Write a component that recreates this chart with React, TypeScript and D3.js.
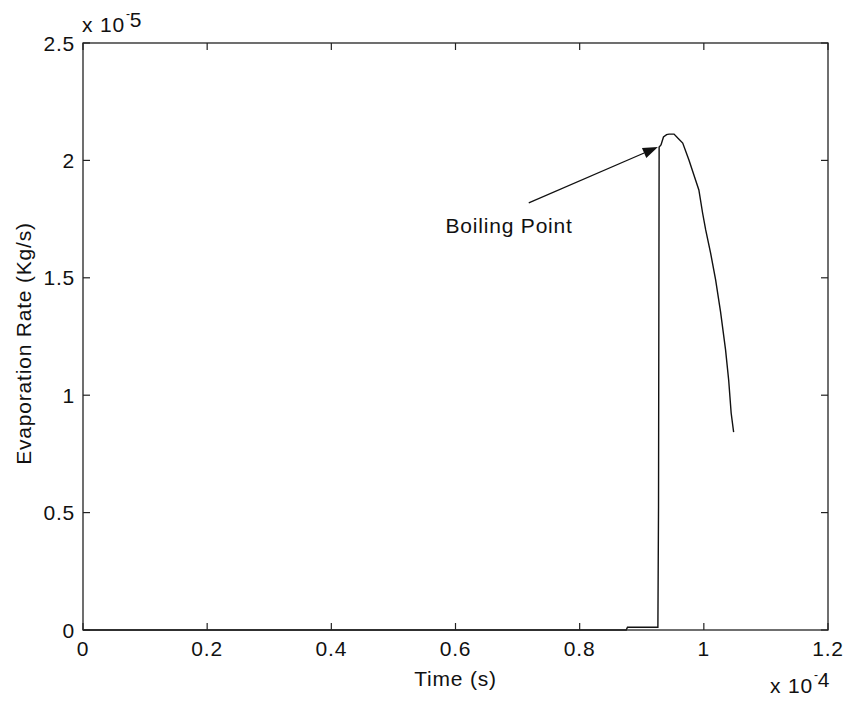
import React from "react";
import * as d3 from "d3";

// Time values (×1e-4 s) and evaporation rate values (×1e-5 kg/s)
const timeValues = [
  0, 0.875, 0.877, 0.926, 0.927, 0.928, 0.931, 0.935, 0.94, 0.944, 0.952, 0.958,
  0.966, 0.976, 0.984, 0.992, 0.998, 1.003, 1.011, 1.019, 1.027, 1.035, 1.04,
  1.044, 1.048,
];
const rateValues = [
  0, 0, 0.012, 0.012, 0.52, 2.057, 2.066, 2.1, 2.11, 2.112, 2.112, 2.095,
  2.074, 2.002, 1.938, 1.874, 1.776, 1.704, 1.604, 1.491, 1.354, 1.193, 1.065,
  0.924, 0.843,
];

const xTicks = [0, 0.2, 0.4, 0.6, 0.8, 1, 1.2];
const xTickLabels = ["0", "0.2", "0.4", "0.6", "0.8", "1", "1.2"];
const yTicks = [0, 0.5, 1, 1.5, 2, 2.5];
const yTickLabels = ["0", "0.5", "1", "1.5", "2", "2.5"];

// annotation: arrow from label to boiling point
const arrowFrom = [0.718, 1.819];
const arrowTo = [0.926, 2.057];
const annotText = "Boiling Point";
const annotPos = [0.584, 1.691];

const W = 845;
const H = 701;
const L = 83;
const R = 828;
const T = 43;
const B = 630;

const FONT = "'Liberation Sans', Arial, Helvetica, sans-serif";
const FS = 21;
const LS = 0.8;

export default function App() {
  const x = d3.scaleLinear().domain([0, 1.2]).range([L, R]);
  const y = d3.scaleLinear().domain([0, 2.5]).range([B, T]);
  const data = timeValues.map((t, i) => [t, rateValues[i]] as [number, number]);
  const line = d3
    .line<[number, number]>()
    .curve(d3.curveLinear)
    .x((d) => x(d[0]))
    .y((d) => y(d[1]));

  const ax = x(arrowFrom[0]);
  const ay = y(arrowFrom[1]);
  const bx = x(arrowTo[0]);
  const by = y(arrowTo[1]);
  const ang = Math.atan2(by - ay, bx - ax);
  const headLen = 15;
  const headW = 5.5;
  const hx = bx - headLen * Math.cos(ang);
  const hy = by - headLen * Math.sin(ang);
  const px = -Math.sin(ang) * headW;
  const py = Math.cos(ang) * headW;

  const tickLen = 7;
  const textStyle = { fontFamily: FONT, fontSize: FS, letterSpacing: LS, fill: "#111" } as const;

  return (
    <svg
      width={W}
      height={H}
      style={{ position: "absolute", left: 0, top: 0, background: "#fff" }}
    >
      <rect x={0} y={0} width={W} height={H} fill="#fff" />
      {/* data line */}
      <path d={line(data) || ""} fill="none" stroke="#111" strokeWidth={1.4} />
      {/* box */}
      <rect x={L} y={T} width={R - L} height={B - T} fill="none" stroke="#222" strokeWidth={1.3} />
      {/* x ticks */}
      {xTicks.map((t, i) => (
        <g key={"xt" + i}>
          <line x1={x(t)} x2={x(t)} y1={B} y2={B - tickLen} stroke="#222" strokeWidth={1.2} />
          <line x1={x(t)} x2={x(t)} y1={T} y2={T + tickLen} stroke="#222" strokeWidth={1.2} />
          <text x={x(t)} y={656} textAnchor="middle" style={textStyle}>
            {xTickLabels[i]}
          </text>
        </g>
      ))}
      {/* y ticks */}
      {yTicks.map((t, i) => (
        <g key={"yt" + i}>
          <line x1={L} x2={L + tickLen} y1={y(t)} y2={y(t)} stroke="#222" strokeWidth={1.2} />
          <line x1={R} x2={R - tickLen} y1={y(t)} y2={y(t)} stroke="#222" strokeWidth={1.2} />
          <text x={75} y={y(t) + 7.5} textAnchor="end" style={textStyle}>
            {yTickLabels[i]}
          </text>
        </g>
      ))}
      {/* exponent labels */}
      <text x={82} y={32} style={textStyle}>
        x 10
        <tspan dx={1} dy={-14} style={{ fontSize: 12 }}>-</tspan>
        <tspan dx={-1} dy={9}>5</tspan>
      </text>
      <text x={770} y={693} style={textStyle}>
        x 10
        <tspan dx={1} dy={-14} style={{ fontSize: 12 }}>-</tspan>
        <tspan dx={-1} dy={8}>4</tspan>
      </text>
      {/* axis labels */}
      <text x={(L + R) / 2} y={686} textAnchor="middle" style={textStyle}>
        Time (s)
      </text>
      <text
        transform={`translate(31, ${(220 + 467) / 2}) rotate(-90)`}
        textAnchor="middle"
        style={textStyle}
      >
        Evaporation Rate (Kg/s)
      </text>
      {/* annotation */}
      <line x1={ax} y1={ay} x2={hx} y2={hy} stroke="#111" strokeWidth={1.3} />
      <polygon
        points={`${bx},${by} ${hx + px},${hy + py} ${hx - px},${hy - py}`}
        fill="#111"
      />
      <text x={x(annotPos[0])} y={y(annotPos[1])} style={textStyle}>
        {annotText}
      </text>
    </svg>
  );
}
